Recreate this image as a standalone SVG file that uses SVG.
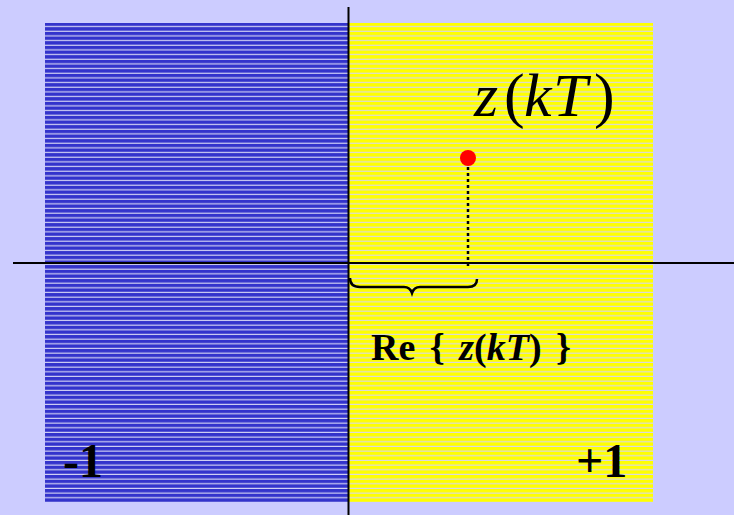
<svg xmlns="http://www.w3.org/2000/svg" width="734" height="515" viewBox="0 0 734 515">
<defs>
<pattern id="blueStripes" patternUnits="userSpaceOnUse" x="0" y="22.5" width="10" height="4.665">
<rect x="0" y="0" width="10" height="4.665" fill="#3333cc"/>
<rect x="0" y="3.5" width="10" height="1.3" fill="#d4d4f4"/>
</pattern>
<pattern id="yellowStripes" patternUnits="userSpaceOnUse" x="0" y="22.5" width="10" height="4.665">
<rect x="0" y="0" width="10" height="4.665" fill="#ffff00"/>
<rect x="0" y="3.5" width="10" height="1.3" fill="#d8d8e8"/>
</pattern>
</defs>
<style>
.serif{font-family:"Liberation Serif","Times New Roman",serif;fill:#000}
.axis{stroke:#000;stroke-width:2;fill:none}
</style>
<rect width="734" height="515" fill="#ccccff"/>
<g id="left-half-plane">
<rect x="45" y="23" width="303" height="479" fill="url(#blueStripes)"/>
<text class="serif" x="63" y="477" font-size="48" font-weight="bold">-1</text>
</g>
<g id="right-half-plane">
<rect x="348" y="23" width="305" height="479" fill="url(#yellowStripes)"/>
<text class="serif" x="576" y="477" font-size="48" font-weight="bold">+1</text>
</g>
<g id="connectors">
<line class="axis" x1="348.5" y1="7" x2="348.5" y2="515"/>
<line class="axis" x1="13" y1="263" x2="734" y2="263"/>
<line x1="468" y1="167" x2="468" y2="268" stroke="#000" stroke-width="2.5" stroke-dasharray="3,3"/>
<path d="M350,278 Q350,287 360,287 L404,287 Q410,287 412,293 Q414,287 420,287 L468,287 Q477,287 477,279" fill="none" stroke="#000" stroke-width="2.5"/>
</g>
<g id="point">
<circle cx="468" cy="158" r="8" fill="#ff0000"/>
<text class="serif" y="116" font-size="62" font-style="italic"><tspan x="474">z</tspan><tspan x="504" font-style="normal">(</tspan><tspan x="524">k</tspan><tspan x="553">T</tspan><tspan x="594" font-style="normal">)</tspan></text>
</g>
<g id="re-label">
<text class="serif" x="371" y="360" font-size="38" font-weight="bold" word-spacing="5">Re { <tspan font-style="italic">z</tspan>(<tspan font-style="italic">kT</tspan>) }</text>
</g>
</svg>
